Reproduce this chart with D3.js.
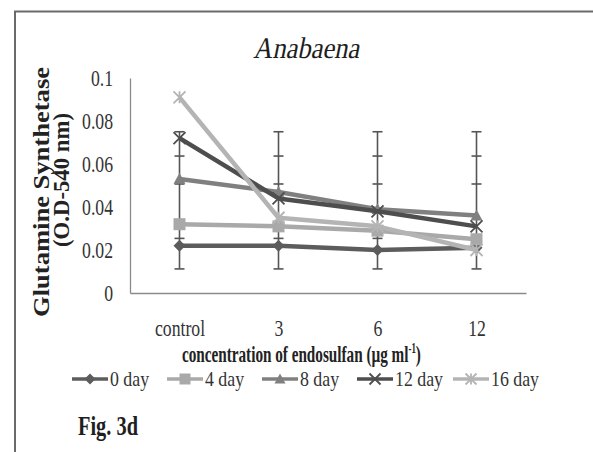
<!DOCTYPE html>
<html>
<head>
<meta charset="utf-8">
<script src="https://cdn.jsdelivr.net/npm/d3@7"></script>
<style>
  html, body { margin: 0; padding: 0; background: #fff; }
  svg { display: block; }
</style>
</head>
<body>
<svg id="chart" width="593" height="452"></svg>
<script>
// Glutamine synthetase activity in Anabaena under endosulfan exposure
const categories = ["control", "3", "6", "12"];
const seriesNames = ["0 day", "4 day", "8 day", "12 day", "16 day"];
const day0  = [0.022, 0.022, 0.020, 0.021];
const day4  = [0.032, 0.031, 0.029, 0.025];
const day8  = [0.053, 0.047, 0.039, 0.036];
const day12 = [0.072, 0.044, 0.038, 0.031];
const day16 = [0.091, 0.035, 0.031, 0.020];
const yTicks = [0, 0.02, 0.04, 0.06, 0.08, 0.1];
const yTickLabels = ["0", "0.02", "0.04", "0.06", "0.08", "0.1"];
// error bar cap levels shown at every concentration
const errorCaps = [0.0112, 0.0254, 0.0507, 0.0637, 0.075];

const seriesValues = [day0, day4, day8, day12, day16];
const seriesColors = ["#5c5c5c", "#a9a9a9", "#808080", "#4e4e4e", "#b4b4b4"];
const seriesMarkers = ["diamond", "square", "triangle", "x", "asterisk"];

const serif = "Liberation Serif, Times New Roman, serif";
const svg = d3.select("#chart");

// outer frame (left and top rules)
svg.append("path")
  .attr("d", "M15,452 V11.5 H593")
  .attr("fill", "none").attr("stroke", "#6a6a6a").attr("stroke-width", 2);

const x = d3.scalePoint().domain(categories).range([130, 526]).padding(0.5);
const y = d3.scaleLinear().domain([0, 0.1]).range([293, 78]);

// horizontally condense a text element to a target width
function fit(sel, width, skew) {
  sel.each(function () {
    const w = this.getComputedTextLength();
    const s = width / w;
    const ax = +this.getAttribute("data-ax");
    const ay = +this.getAttribute("y");
    const sk = skew ? ` translate(0,${ay}) skewX(${skew}) translate(0,${-ay})` : "";
    this.setAttribute("transform", `translate(${ax},0) scale(${s},1) translate(${-ax},0)${sk}`);
  });
}
function condense(sel, sx) {
  sel.each(function () {
    const ax = +this.getAttribute("data-ax");
    this.setAttribute("transform", `translate(${ax},0) scale(${sx},1) translate(${-ax},0)`);
  });
}

// axes
const yAxis = svg.append("g").attr("transform", "translate(130,0)")
  .call(d3.axisLeft(y).tickValues(yTicks).tickSize(0).tickPadding(17)
    .tickFormat((d, i) => yTickLabels[i]));
yAxis.select(".domain").attr("stroke", "#8a8a8a").attr("stroke-width", 1.3);
yAxis.selectAll("text")
  .attr("font-family", serif).attr("font-size", 23).attr("fill", "#333")
  .attr("dy", "0.34em")
  .attr("data-ax", -17).call(condense, 0.77);

const xAxis = svg.append("g").attr("transform", "translate(0,293)")
  .call(d3.axisBottom(x).tickSize(0).tickPadding(43));
xAxis.select(".domain").attr("stroke", "#8a8a8a").attr("stroke-width", 1.3);
xAxis.selectAll("text")
  .attr("font-family", serif).attr("font-size", 23).attr("fill", "#333")
  .attr("dy", "0")
  .attr("data-ax", 0)
  .call(condense, 0.77);

// error bars
const eb = svg.append("g").attr("stroke", "#555").attr("stroke-width", 1.6);
categories.forEach(c => {
  const cx = x(c);
  eb.append("line").attr("x1", cx).attr("x2", cx)
    .attr("y1", y(d3.min(errorCaps))).attr("y2", y(d3.max(errorCaps)));
  errorCaps.forEach(v => {
    eb.append("line").attr("x1", cx - 5).attr("x2", cx + 5)
      .attr("y1", y(v)).attr("y2", y(v));
  });
});

// marker shapes
function drawMarker(g, type, cx, cy, color, s) {
  const h = s / 2;
  if (type === "diamond") {
    g.append("path").attr("d", `M${cx},${cy - h} L${cx + h},${cy} L${cx},${cy + h} L${cx - h},${cy} Z`)
      .attr("fill", color);
  } else if (type === "square") {
    g.append("rect").attr("x", cx - h).attr("y", cy - h).attr("width", s).attr("height", s)
      .attr("fill", color);
  } else if (type === "triangle") {
    g.append("path").attr("d", `M${cx},${cy - h} L${cx + h},${cy + h * 0.8} L${cx - h},${cy + h * 0.8} Z`)
      .attr("fill", color);
  } else if (type === "x") {
    g.append("path").attr("d", `M${cx - h},${cy - h} L${cx + h},${cy + h} M${cx - h},${cy + h} L${cx + h},${cy - h}`)
      .attr("stroke", color).attr("stroke-width", 1.8);
  } else if (type === "asterisk") {
    g.append("path").attr("d", `M${cx - h},${cy - h} L${cx + h},${cy + h} M${cx - h},${cy + h} L${cx + h},${cy - h} M${cx},${cy - h} L${cx},${cy + h}`)
      .attr("stroke", color).attr("stroke-width", 1.8);
  }
}

const line = d3.line().x((d, i) => x(categories[i])).y(d => y(d));
const plot = svg.append("g");
seriesValues.forEach((vals, si) => {
  const g = plot.append("g");
  g.append("path").datum(vals).attr("d", line)
    .attr("fill", "none").attr("stroke", seriesColors[si]).attr("stroke-width", 4.5)
    .attr("stroke-linejoin", "round");
  vals.forEach((v, i) => drawMarker(g, seriesMarkers[si], x(categories[i]), y(v), seriesColors[si], 12));
});

// chart title (serif, slanted)
const title = svg.append("text").attr("x", 306).attr("y", 58)
  .attr("text-anchor", "middle").attr("font-family", serif)
  .attr("font-size", 30)
  .attr("fill", "#1e1e1e").attr("data-ax", 306).text("Anabaena");
fit(title, 106, -13);

// y-axis title (two lines, rotated)
svg.append("text").attr("transform", "translate(49,192) rotate(-90)")
  .attr("text-anchor", "middle").attr("font-family", serif)
  .attr("font-size", 23).attr("font-weight", "bold").attr("fill", "#222")
  .attr("textLength", 250).attr("lengthAdjust", "spacingAndGlyphs")
  .text("Glutamine Synthetase");
svg.append("text").attr("transform", "translate(69,180) rotate(-90)")
  .attr("text-anchor", "middle").attr("font-family", serif)
  .attr("font-size", 23).attr("font-weight", "bold").attr("fill", "#222")
  .attr("textLength", 134).attr("lengthAdjust", "spacingAndGlyphs")
  .text("(O.D-540 nm)");

// x-axis title
const xt = svg.append("text").attr("x", 182).attr("y", 362).attr("fill", "#222")
  .attr("font-family", serif).attr("font-size", 24).attr("font-weight", "bold").attr("data-ax", 182);
xt.append("tspan").text("concentration of endosulfan (µg ml");
xt.append("tspan").attr("font-size", 14).attr("dy", -9).text("-1");
xt.append("tspan").attr("dy", 9).text(")");
fit(xt, 239);

// legend
const legendX = [72, 167, 262, 357, 453];
const legend = svg.append("g");
seriesNames.forEach((name, si) => {
  const lx = legendX[si], ly = 379;
  legend.append("line").attr("x1", lx).attr("x2", lx + 36).attr("y1", ly).attr("y2", ly)
    .attr("stroke", seriesColors[si]).attr("stroke-width", 3.5);
  drawMarker(legend, seriesMarkers[si], lx + 18, ly, seriesColors[si], 11);
  const t = legend.append("text").attr("x", lx + 38).attr("y", 386)
    .attr("font-family", serif).attr("font-size", 21).attr("fill", "#333")
    .attr("data-ax", lx + 38).text(name);
  condense(t, 0.85);
});

// figure label
const fig = svg.append("text").attr("x", 78).attr("y", 435).attr("fill", "#1e1e1e")
  .attr("font-family", serif).attr("font-size", 27).attr("font-weight", "bold")
  .attr("data-ax", 78).text("Fig. 3d");
fit(fig, 60);
</script>
</body>
</html>
